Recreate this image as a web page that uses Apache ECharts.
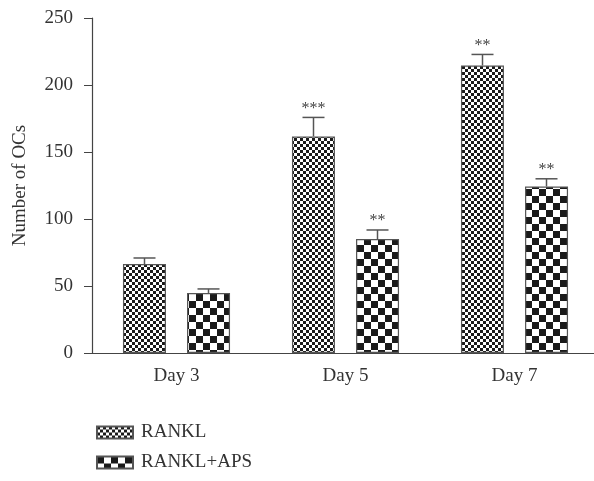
<!DOCTYPE html>
<html>
<head>
<meta charset="utf-8">
<script src="https://cdn.jsdelivr.net/npm/echarts@6/dist/echarts.min.js"></script>
<style>html,body{margin:0;padding:0;background:#fff;}#c{width:594px;height:481px;}</style>
</head>
<body>
<div id="c"></div>
<script>
const categories = ['Day 3', 'Day 5', 'Day 7'];
const seriesNames = ['RANKL', 'RANKL+APS'];
const ranklValues = [66.4, 161.6, 214.6];
const ranklErrors = [4.5, 14.2, 8.2];
const apsValues = [44.8, 85, 124.3];
const apsErrors = [3, 6.8, 5.7];
const ranklStars = ['', '***', '**'];
const apsStars = ['', '**', '**'];
const yTicks = [0, 50, 100, 150, 200, 250];

function checker(cell) {
  const c = document.createElement('canvas');
  c.width = cell * 2; c.height = cell * 2;
  const g = c.getContext('2d');
  g.fillStyle = '#fff'; g.fillRect(0, 0, c.width, c.height);
  g.fillStyle = '#1a1a1a';
  g.fillRect(0, 0, cell, cell);
  g.fillRect(cell, cell, cell, cell);
  return c;
}
const fine = { image: checker(3), repeat: 'repeat' };
const coarse = { image: checker(7), repeat: 'repeat' };

const FONT = '"Liberation Serif", "DejaVu Serif", serif';
const GREY = '#555';
const FS = 19;

function errSeries(values, errors, stars, idx) {
  return {
    type: 'custom',
    silent: true,
    z: 5,
    data: values.map((v, i) => [i, v, errors[i]]),
    renderItem: function (params, api) {
      const ci = api.value(0);
      const v = api.value(1);
      const e = api.value(2);
      const s = stars[params.dataIndex];
      const base = api.coord([ci, v]);
      const top = api.coord([ci, v + e]);
      const off = 32 * (idx === 0 ? -1 : 1);
      const x = base[0] + off;
      const half = 11;
      const children = [
        { type: 'line', shape: { x1: x, y1: base[1], x2: x, y2: top[1] }, style: { stroke: GREY, lineWidth: 1.5 } },
        { type: 'line', shape: { x1: x - half, y1: top[1], x2: x + half, y2: top[1] }, style: { stroke: GREY, lineWidth: 1.5 } }
      ];
      if (s) {
        children.push({ type: 'text', style: { text: s, x: x, y: top[1] - 1, textAlign: 'center', textVerticalAlign: 'bottom', fill: '#444', font: '16px ' + FONT } });
      }
      return { type: 'group', children: children };
    }
  };
}

const chart = echarts.init(document.getElementById('c'));
chart.setOption({
  animation: false,
  backgroundColor: '#fff',
  grid: { left: 92, top: 18, bottom: 128, width: 507, outerBoundsMode: 'none', containLabel: false },
  legend: {
    orient: 'vertical', left: 91, top: 418, itemWidth: 36, itemHeight: 12, itemGap: 11,
    icon: 'rect',
    data: seriesNames,
    textStyle: { fontFamily: FONT, fontSize: FS, color: '#333', padding: [0, 0, 0, 3] }
  },
  xAxis: {
    type: 'category', data: categories,
    axisLine: { lineStyle: { color: '#444', width: 1.2 } },
    axisTick: { alignWithLabel: true, length: 8, lineStyle: { color: '#444' } },
    axisLabel: { fontFamily: FONT, fontSize: FS, color: '#333', margin: 14 }
  },
  yAxis: {
    type: 'value', min: 0, max: 250, interval: 50,
    name: 'Number of OCs', nameLocation: 'middle', nameGap: 62,
    nameTextStyle: { fontFamily: FONT, fontSize: FS, color: '#333' },
    axisLine: { show: true, lineStyle: { color: '#444', width: 1.2 } },
    axisTick: { show: true, length: 8, lineStyle: { color: '#444' } },
    splitLine: { show: false },
    axisLabel: { fontFamily: FONT, fontSize: FS, color: '#333', margin: 19,
      formatter: v => yTicks.includes(v) ? String(v) : '' }
  },
  series: [
    { name: seriesNames[0], type: 'bar', data: ranklValues, barWidth: 43, barGap: '49%',
      itemStyle: { color: fine, borderColor: GREY, borderWidth: 1.2 } },
    { name: seriesNames[1], type: 'bar', data: apsValues, barWidth: 43, barGap: '49%',
      itemStyle: { color: coarse, borderColor: GREY, borderWidth: 1.2 } },
    errSeries(ranklValues, ranklErrors, ranklStars, 0),
    errSeries(apsValues, apsErrors, apsStars, 1)
  ]
});
</script>
</body>
</html>
